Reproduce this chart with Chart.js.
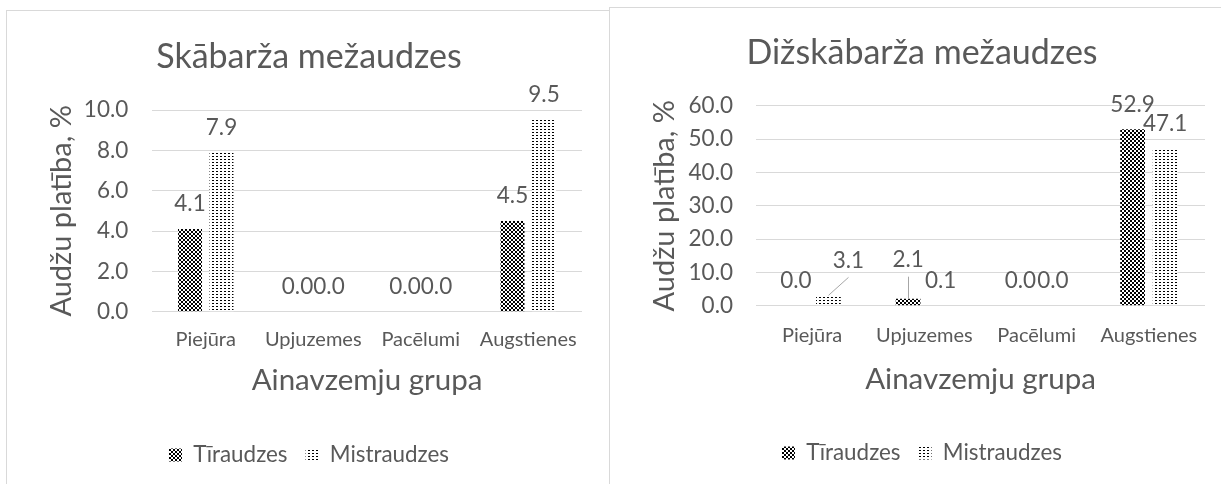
<!DOCTYPE html>
<html><head><meta charset="utf-8">
<script src="https://cdn.jsdelivr.net/npm/chart.js@4.4.1/dist/chart.umd.min.js"></script>
<style>
html,body{margin:0;padding:0;background:#fff;overflow:hidden;width:1221px;height:484px;}
.box{position:absolute;border:1px solid #d9d9d9;background:#fff;}
#boxL{left:6px;top:10px;width:620px;height:490px;}
#boxR{left:609px;top:7px;width:640px;height:490px;}
canvas{position:absolute;left:0;top:0;}
</style></head><body>
<div class="box" id="boxL"><canvas id="cL" width="604" height="473"></canvas></div>
<div class="box" id="boxR"><canvas id="cR" width="624" height="476"></canvas></div>
<script>
// ---- data ----
const categories = ['Piejūra', 'Upjuzemes', 'Pacēlumi', 'Augstienes'];
const seriesNames = ['Tīraudzes', 'Mistraudzes'];
const skabTir = [4.1, 0.0, 0.0, 4.5];
const skabMis = [7.9, 0.0, 0.0, 9.5];
const dizTir = [0.0, 2.1, 0.0, 52.9];
const dizMis = [3.1, 0.1, 0.0, 47.1];
const titleLeft = 'Skābarža mežaudzes';
const titleRight = 'Dižskābarža mežaudzes';
const yTitle = 'Audžu platība, %';
const xTitle = 'Ainavzemju grupa';
const skabTicks = {max: 10, step: 2};
const dizTicks = {max: 60, step: 10};

// ---- style ----
const FONT = 'Lato';
const TXT = '#595959';
const GRID = '#d9d9d9';

function makePattern(kind) {
  const c = document.createElement('canvas');
  const g = c.getContext('2d');
  if (kind === 'check') {
    c.width = 4; c.height = 4;
    g.fillStyle = '#fff'; g.fillRect(0, 0, 4, 4);
    g.fillStyle = '#000'; g.fillRect(0, 0, 2, 2); g.fillRect(2, 2, 2, 2);
  } else {
    c.width = 4; c.height = 3;
    g.fillStyle = '#fff'; g.fillRect(0, 0, 4, 3);
    g.fillStyle = '#000'; g.fillRect(1, 1, 2, 1);
  }
  return document.createElement('canvas').getContext('2d').createPattern(c, 'repeat');
}
const patCheck = makePattern('check');
const patDots = makePattern('dots');

const valueLabels = {
  id: 'valueLabels',
  afterDatasetsDraw(chart, args, opts) {
    const ctx = chart.ctx;
    ctx.save();
    ctx.font = opts.size + 'px ' + FONT;
    ctx.fillStyle = TXT;
    ctx.textAlign = 'center';
    ctx.textBaseline = 'middle';
    chart.data.datasets.forEach((ds, di) => {
      const meta = chart.getDatasetMeta(di);
      meta.data.forEach((bar, i) => {
        const v = ds.data[i];
        let x = bar.x, y = bar.y - opts.offset;
        const n = (opts.nudges || {})[di + '-' + i];
        if (n) {
          x += n[0]; y += n[1];
          ctx.strokeStyle = '#a6a6a6';
          ctx.lineWidth = 1;
          ctx.beginPath();
          ctx.moveTo(Math.round(bar.x) + 0.5, bar.y);
          ctx.lineTo(Math.round(x) + 0.5, y + 17);
          ctx.stroke();
        }
        ctx.fillText(v.toFixed(1), x, y);
      });
    });
    ctx.restore();
  }
};

function makeChart(id, title, tir, mis, tk, L) {
  return new Chart(document.getElementById(id), {
    type: 'bar',
    data: {
      labels: categories,
      datasets: [
        {label: seriesNames[0], data: tir, backgroundColor: patCheck, borderWidth: 0,
         categoryPercentage: L.cat, barPercentage: L.bar},
        {label: seriesNames[1], data: mis, backgroundColor: patDots, borderWidth: 0,
         categoryPercentage: L.cat, barPercentage: L.bar}
      ]
    },
    options: {
      responsive: false, animation: false, devicePixelRatio: 1,
      layout: {padding: {left: 29, right: 29, top: 0, bottom: L.padBottom}},
      plugins: {
        title: {display: true, text: title, color: TXT,
                font: {family: FONT, size: 34, weight: 'normal'},
                padding: {top: L.tpt, bottom: L.tpb}},
        legend: {position: 'bottom',
                 labels: {color: TXT, font: {family: FONT, size: 22.4}, boxWidth: 13, boxHeight: 13, padding: 18}},
        tooltip: {enabled: false},
        valueLabels: {size: 22.5, offset: 25, nudges: L.nudges}
      },
      scales: {
        x: {
          grid: {display: false, drawTicks: false},
          border: {display: false},
          ticks: {color: TXT, font: {family: FONT, size: 20}, padding: L.xtp},
          title: {display: true, text: xTitle, color: TXT, font: {family: FONT, size: 29.5},
                  padding: {top: 0, bottom: L.xpb}},
          afterFit: s => { s.height = L.xh; }
        },
        y: {
          min: 0, max: tk.max,
          ticks: {stepSize: tk.step, color: TXT, font: {family: FONT, size: 22.5}, padding: L.ytp,
                  callback: v => Number(v).toFixed(1)},
          grid: {color: GRID, drawTicks: false, lineWidth: 1},
          border: {display: false},
          title: {display: true, text: yTitle, color: TXT, font: {family: FONT, size: 29},
                  padding: {top: L.ypt, bottom: 0}},
          afterFit: s => { s.width = L.yw; }
        }
      }
    },
    plugins: [valueLabels]
  });
}

makeChart('cL', titleLeft, skabTir, skabMis, skabTicks, {
  cat: 0.586, bar: 0.76, yw: 116, ypt: 8.3, ytp: 23.7, xh: 114.1, xtp: 16.3, xpb: 28.1,
  tpt: 25.6, tpb: 32.6, padBottom: 7.8, nudges: {}
});
makeChart('cR', titleRight, dizTir, dizMis, dizTicks, {
  cat: 0.58, bar: 0.76, yw: 117, ypt: 8.6, ytp: 23, xh: 118.1, xtp: 17.5, xpb: 27.1,
  tpt: 24.9, tpb: 32.0, padBottom: 9.8, nudges: {'1-0': [20, -10], '0-1': [0, -14]}
});
</script>
</body></html>
